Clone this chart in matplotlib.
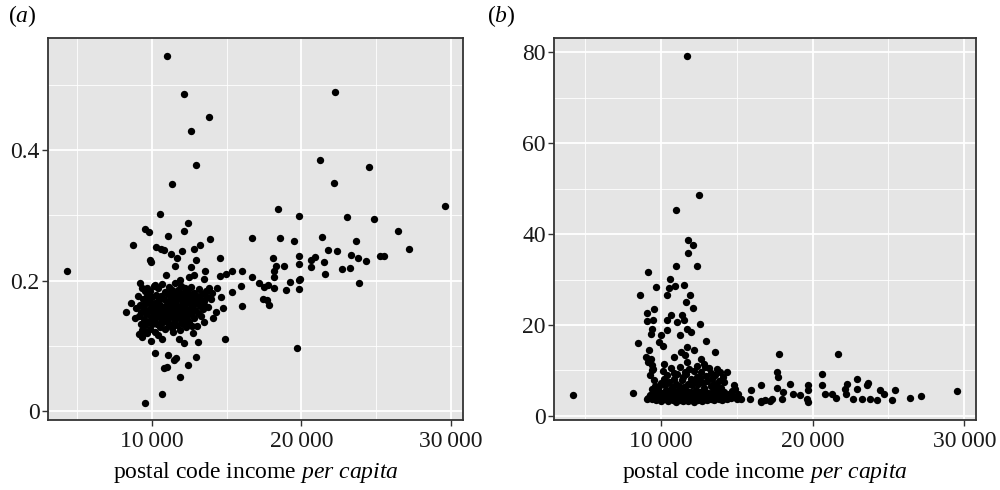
import matplotlib
matplotlib.use("Agg")
import matplotlib.pyplot as plt
from matplotlib.ticker import FixedLocator, FuncFormatter

plt.rcParams['font.family'] = ['Liberation Serif', 'DejaVu Serif']
plt.rcParams['mathtext.fontset'] = 'custom'
plt.rcParams['mathtext.rm'] = 'Liberation Serif'
plt.rcParams['mathtext.it'] = 'Liberation Serif:italic'

# (a) scattered points outside the dense core: (income per capita, value)
a_outer = [
    (11000, 0.545), (12180, 0.487), (13820, 0.451), (12620, 0.429), (12950, 0.377),
    (11330, 0.348), (10530, 0.302), (12450, 0.288), (9580, 0.279), (12180, 0.276),
    (22270, 0.489), (21220, 0.385), (24550, 0.375), (22180, 0.349), (18470, 0.310),
    (19820, 0.299), (23020, 0.298), (24820, 0.294), (29580, 0.314), (26470, 0.276),
    (16710, 0.266), (18600, 0.265), (19490, 0.261), (21380, 0.267), (23650, 0.261),
    (27220, 0.249), (18090, 0.235), (19820, 0.237), (21750, 0.247), (22380, 0.245),
    (23330, 0.239), (23800, 0.235), (24310, 0.230), (25270, 0.238), (25490, 0.237),
    (18310, 0.223), (18850, 0.223), (19870, 0.225), (20670, 0.232), (20890, 0.236),
    (20670, 0.221), (21530, 0.228), (21600, 0.210), (22690, 0.217), (23270, 0.219),
    (18150, 0.214), (18150, 0.206), (16710, 0.206), (17150, 0.196), (17470, 0.190),
    (17750, 0.193), (18200, 0.189), (19220, 0.197), (19820, 0.201), (19930, 0.203),
    (18980, 0.185), (19850, 0.187), (23850, 0.196), (17420, 0.172), (17690, 0.170),
    (17850, 0.162), (19710, 0.096),
    (4310, 0.214), (9580, 0.012), (10670, 0.026), (11870, 0.052), (10850, 0.065),
    (11020, 0.068), (11470, 0.078), (11600, 0.081), (12450, 0.071), (12930, 0.082),
    (10200, 0.089), (11070, 0.086), (14890, 0.110), (9950, 0.107), (9350, 0.114),
    (10690, 0.111), (11850, 0.111), (12180, 0.104), (13070, 0.106), (12750, 0.119),
    (12710, 0.130), (11400, 0.121), (9510, 0.122), (8270, 0.151), (8620, 0.166),
    (9200, 0.196), (9670, 0.189), (10240, 0.193), (10980, 0.208), (11580, 0.223),
    (12600, 0.221), (12930, 0.232), (11710, 0.235), (11310, 0.241), (12000, 0.246),
    (12850, 0.248), (13220, 0.255), (13870, 0.264), (10310, 0.251), (10620, 0.248),
    (10800, 0.247), (8750, 0.255), (9870, 0.231), (9950, 0.229), (9820, 0.275),
    (11070, 0.269), (14580, 0.234), (15380, 0.215), (16000, 0.214), (15950, 0.191),
    (15330, 0.183), (16050, 0.161), (14620, 0.175), (14350, 0.188), (14580, 0.207),
    (14950, 0.210), (13550, 0.214), (13510, 0.203), (11910, 0.201), (12510, 0.206),
    (12850, 0.208), (13510, 0.163), (13470, 0.137), (14090, 0.142), (14290, 0.152),
    (14730, 0.158),
]

# (a) dense core around 9 000-14 000
a_core = [
    (9100, 0.176), (9180, 0.146), (9230, 0.163), (9260, 0.134), (9310, 0.152), (9340, 0.189),
    (9370, 0.124), (9400, 0.171), (9450, 0.141), (9480, 0.158), (9520, 0.184), (9560, 0.131),
    (9600, 0.148), (9640, 0.166), (9680, 0.177), (9720, 0.137), (9760, 0.153), (9800, 0.169),
    (9850, 0.126), (9880, 0.184), (9920, 0.144), (9960, 0.160), (10000, 0.133), (10040, 0.174),
    (10080, 0.151), (10120, 0.191), (10150, 0.139), (10190, 0.165), (10230, 0.121), (10260, 0.156),
    (10300, 0.178), (10340, 0.146), (10380, 0.134), (10420, 0.168), (10450, 0.188), (10490, 0.152),
    (10530, 0.129), (10560, 0.162), (10600, 0.141), (10630, 0.176), (10670, 0.157), (10700, 0.194),
    (10740, 0.136), (10770, 0.148), (10800, 0.171), (10840, 0.160), (10870, 0.125), (10900, 0.183),
    (10940, 0.145), (10970, 0.154), (11000, 0.167), (11040, 0.138), (11070, 0.179), (11100, 0.150),
    (11140, 0.190), (11170, 0.131), (11200, 0.163), (11240, 0.144), (11270, 0.173), (11300, 0.156),
    (11340, 0.186), (11370, 0.127), (11400, 0.148), (11440, 0.166), (11470, 0.137), (11500, 0.180),
    (11540, 0.158), (11570, 0.196), (11600, 0.143), (11640, 0.170), (11670, 0.152), (11700, 0.132),
    (11740, 0.185), (11770, 0.161), (11800, 0.146), (11840, 0.176), (11870, 0.124), (11900, 0.157),
    (11940, 0.192), (11970, 0.139), (12000, 0.168), (12040, 0.150), (12070, 0.181), (12100, 0.134),
    (12140, 0.162), (12170, 0.174), (12200, 0.145), (12240, 0.188), (12270, 0.156), (12300, 0.128),
    (12340, 0.170), (12370, 0.141), (12400, 0.183), (12440, 0.153), (12470, 0.165), (12500, 0.136),
    (12550, 0.176), (12600, 0.148), (12650, 0.190), (12700, 0.159), (12750, 0.171), (12800, 0.142),
    (12850, 0.181), (12900, 0.155), (12950, 0.166), (13000, 0.130), (13050, 0.177), (13100, 0.150),
    (13150, 0.187), (13200, 0.161), (13250, 0.172), (13300, 0.145), (13380, 0.180), (13450, 0.157),
    (13520, 0.168), (13600, 0.184), (13680, 0.175), (13750, 0.160), (13850, 0.188), (13950, 0.171),
    (14050, 0.181), (9150, 0.118), (9700, 0.119), (10400, 0.117), (8950, 0.158), (8850, 0.143),
]

# (b) scattered points
b_outer = [
    (4200, 4.5), (8180, 5.1), (11750, 79.2), (12540, 48.6), (10990, 45.3), (11800, 38.7),
    (12110, 37.5), (11800, 35.8), (10990, 33.0), (12370, 33.0), (9180, 31.6), (10610, 30.1),
    (9710, 28.4), (10570, 28.2), (10920, 28.5), (11530, 28.9), (8640, 26.7), (10390, 26.7),
    (11910, 26.7), (11650, 25.1), (12110, 23.8), (9560, 23.6), (9080, 22.6), (10660, 22.2),
    (11420, 22.3), (9120, 20.8), (9470, 21.1), (10430, 21.1), (11050, 20.7), (11530, 21.1),
    (12570, 20.3), (9450, 19.2), (9340, 18.1), (10000, 17.8), (10390, 18.8), (11750, 19.2),
    (12020, 18.5), (11250, 17.8), (8500, 16.0), (9910, 16.3), (10130, 15.4), (12980, 16.5),
    (9230, 14.5), (9010, 13.0), (9340, 12.6), (10220, 11.5), (11320, 14.1), (12190, 14.5),
    (13560, 14.0), (9450, 10.1), (10880, 13.0), (11750, 11.9), (12630, 12.6), (12850, 11.3),
    (13730, 10.4), (14390, 9.6), (9560, 7.9), (10220, 8.2), (10880, 9.4), (11620, 9.7),
    (12410, 8.6), (13290, 9.4), (14170, 7.5), (14830, 6.8), (15930, 5.7), (16590, 6.8),
    (15270, 3.8), (16590, 3.2), (9180, 11.9), (9400, 11.2), (9510, 10.4), (9080, 3.8),
    (11710, 15.2), (11600, 13.4), (12920, 10.8), (13910, 9.7), (14900, 6.0), (15880, 3.6),
    (9300, 9.0), (9600, 6.5), (9400, 6.0),
    (17770, 13.5), (21660, 13.6), (17640, 9.7), (17750, 8.6), (20610, 9.3), (17640, 6.2),
    (18520, 6.9), (18080, 5.3), (18740, 4.9), (19180, 4.6), (19720, 6.8), (19720, 5.7),
    (19620, 3.8), (19720, 3.1), (20610, 6.8), (20820, 4.9), (21260, 4.9), (21550, 4.0),
    (22250, 7.1), (22140, 6.0), (22210, 4.9), (22650, 3.8), (22950, 8.1), (22950, 5.9),
    (23240, 3.7), (23680, 7.3), (23570, 6.7), (23790, 3.8), (24270, 3.5), (24450, 5.7),
    (24710, 4.9), (25220, 3.5), (25410, 5.6), (26420, 4.0), (27150, 4.3), (29540, 5.5),
    (16600, 3.0), (16900, 3.4), (17200, 3.2), (17350, 3.6), (17970, 3.8),
]

# (b) dense low band
b_core = [
    (9150, 4.0), (9300, 4.6), (9420, 3.6), (9500, 5.3), (9600, 4.1), (9680, 3.4), (9750, 4.8),
    (9820, 5.9), (9880, 3.8), (9950, 4.4), (10020, 3.3), (10080, 5.1), (10150, 4.0), (10210, 3.6),
    (10270, 4.7), (10330, 5.6), (10390, 3.9), (10450, 3.2), (10500, 4.4), (10560, 5.2), (10620, 3.7),
    (10680, 4.1), (10730, 6.0), (10790, 3.4), (10850, 4.8), (10900, 3.9), (10960, 5.4), (11010, 3.1),
    (11060, 4.3), (11120, 3.7), (11170, 5.0), (11220, 4.0), (11280, 3.4), (11330, 5.8), (11390, 4.5),
    (11440, 3.8), (11500, 3.2), (11550, 4.9), (11610, 4.2), (11660, 3.6), (11720, 5.5), (11770, 4.0),
    (11830, 3.3), (11880, 4.6), (11940, 3.9), (12000, 5.2), (12050, 3.5), (12110, 4.3), (12160, 3.1),
    (12220, 4.8), (12270, 3.7), (12330, 5.7), (12390, 4.1), (12440, 3.4), (12500, 4.7), (12560, 3.8),
    (12620, 5.3), (12680, 4.0), (12740, 3.3), (12800, 4.5), (12870, 5.9), (12930, 3.7), (13000, 4.2),
    (13070, 3.4), (13140, 5.0), (13210, 4.0), (13280, 3.6), (13360, 4.6), (13440, 5.5), (13520, 3.5),
    (13600, 4.3), (13690, 3.9), (13780, 5.1), (13870, 3.7), (13960, 4.5), (14050, 3.4), (14150, 5.2),
    (14250, 4.0), (14350, 3.6), (14470, 4.7), (14600, 3.9), (14720, 5.4), (14850, 4.2), (15000, 3.6),
    (15100, 4.9),
    (9900, 6.5), (10050, 7.3), (10180, 9.8), (10300, 6.8), (10420, 8.9), (10560, 7.5), (10680, 10.6),
    (10760, 6.3), (10850, 8.1), (11000, 7.0), (11100, 9.1), (11200, 6.6), (11290, 10.8), (11380, 7.8),
    (11480, 8.6), (11560, 6.4), (11680, 9.3), (11780, 7.1), (11880, 10.2), (11980, 8.0), (12080, 6.7),
    (12180, 9.9), (12280, 7.4), (12380, 10.9), (12480, 6.9), (12580, 8.3), (12680, 9.6), (12780, 7.2),
    (12880, 6.2), (12980, 8.8), (13080, 7.6), (13180, 10.5), (13280, 6.5), (13380, 8.1), (13480, 7.0),
    (13600, 8.9), (13720, 6.4), (13850, 7.7), (14000, 6.1), (14100, 8.5),
]

x_major = [10000, 20000, 30000]
x_minor = [5000, 15000, 25000]
a_major = [0, 0.2, 0.4]
a_minor = [0.1, 0.3, 0.5]
b_major = [0, 20, 40, 60, 80]
b_minor = [10, 30, 50, 70]

FS = 17


def thousands(v, pos):
    return f"{int(v):,}".replace(",", "\u2009")


def style(ax, ymaj, ymin):
    ax.set_facecolor('#E5E5E5')
    ax.xaxis.set_major_locator(FixedLocator(x_major))
    ax.xaxis.set_minor_locator(FixedLocator(x_minor))
    ax.yaxis.set_major_locator(FixedLocator(ymaj))
    ax.yaxis.set_minor_locator(FixedLocator(ymin))
    ax.xaxis.set_major_formatter(FuncFormatter(thousands))
    ax.grid(True, which='major', color='white', linewidth=1.3)
    ax.grid(True, which='minor', color='white', linewidth=0.6)
    ax.set_axisbelow(True)
    for s in ax.spines.values():
        s.set_color('#333333')
        s.set_linewidth(1.3)
    ax.tick_params(which='major', length=4, width=1, color='#333333',
                   labelsize=FS, labelcolor='#1a1a1a', pad=2)
    ax.tick_params(axis='x', which='major', pad=4)
    ax.tick_params(which='minor', length=0)
    ax.set_xlabel(r'postal code income $\mathit{per}$ $\mathit{capita}$',
                  fontsize=FS, labelpad=6)


fig = plt.figure(figsize=(10, 4.9), dpi=100)
ax_a = fig.add_axes([0.048, 0.143, 0.415, 0.779])
ax_b = fig.add_axes([0.554, 0.143, 0.422, 0.779])

for pts in (a_outer, a_core):
    ax_a.scatter([p[0] for p in pts], [p[1] for p in pts], s=28, color='black',
                 linewidths=0, zorder=3)
for pts in (b_outer, b_core):
    ax_b.scatter([p[0] for p in pts], [p[1] for p in pts], s=28, color='black',
                 linewidths=0, zorder=3)

style(ax_a, a_major, a_minor)
ax_a.set_yticklabels(['0', '0.2', '0.4'])
ax_a.set_xlim(3067, 30800)
ax_a.set_ylim(-0.014, 0.572)

style(ax_b, b_major, b_minor)
ax_b.set_xlim(2970, 30770)
ax_b.set_ylim(-0.9, 83.1)

fig.text(0.008, 0.968, r'($\mathit{a}$)', fontsize=FS, va='center')
fig.text(0.487, 0.968, r'($\mathit{b}$)', fontsize=FS, va='center')

fig.savefig('out.png', dpi=100)
